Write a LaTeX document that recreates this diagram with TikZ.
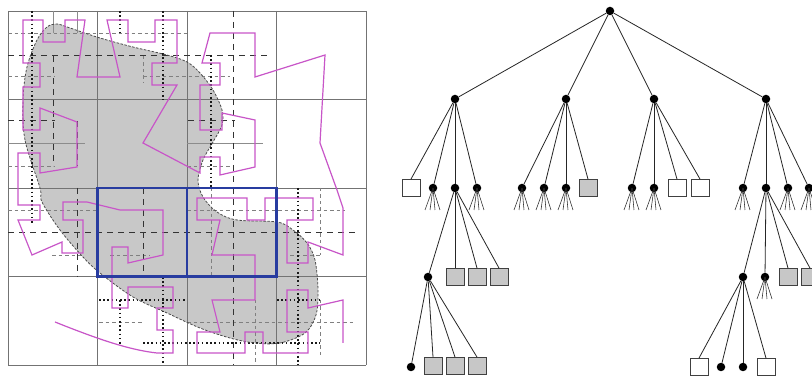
\documentclass[tikz,border=0pt]{standalone}
\usetikzlibrary{calc}
\definecolor{mag}{RGB}{200,85,200}
\definecolor{bluebox}{RGB}{40,60,160}
\definecolor{blobfill}{RGB}{200,200,200}
\begin{document}
\begin{tikzpicture}[x=1pt,y=-1pt,
  major/.style={draw=black!55,line width=0.9pt},
  thingrid/.style={draw=black!45,line width=0.6pt},
  ldash/.style={draw=black!80,line width=1.0pt,dash pattern=on 6pt off 5pt},
  gdash/.style={draw=black!50,line width=0.7pt,dash pattern=on 3.5pt off 3pt},
  ldot/.style={draw=black!90,line width=1.2pt,dash pattern=on 1.6pt off 2.6pt},
  blobline/.style={draw=black!70,line width=0.8pt,dash pattern=on 2.5pt off 1.5pt},
  hilb/.style={draw=mag,line width=1.2pt,line join=miter},
  cellbox/.style={draw=bluebox,line width=2.4pt},
  edge/.style={draw=black!85,line width=0.8pt},
  tass/.style={draw=black!85,line width=0.55pt},
  dotn/.style={circle,fill=black,inner sep=0pt,minimum size=8.5pt},
  sqw/.style={rectangle,draw=black!75,line width=0.8pt,fill=white,minimum width=18pt,minimum height=17pt,inner sep=0pt},
  sqg/.style={sqw,fill=black!22}]
\useasboundingbox (0,0) rectangle (812,379);
\fill[white] (0,0) rectangle (812,379);

% ---------------- blob
\def\blobpts{(40,188) (25,140) (23,100) (27,67) (37,40) (47,27) (57,24) (70,28) (100,38) (133,47) (167,55) (187,62) (200,73) (213,90) (222,110) (222,125) (213,142) (203,160) (198,180) (203,197) (217,212) (237,220) (277,222) (293,230) (307,243) (315,260) (318,290) (316,315) (305,333) (280,343) (255,343) (230,338) (200,328) (167,313) (133,297) (100,273) (83,257) (60,230) (42,202)}
\fill[blobfill] plot[smooth cycle,tension=0.55] coordinates {\blobpts};

% ---------------- grid
\foreach \v in {8,97.5,187,276.5,366} \draw[major] (\v,11) -- (\v,365);
\foreach \h in {11,99.5,188,276.5,365} \draw[major] (8,\h) -- (366,\h);
\foreach \y/\a/\b in {143/8/85,143/187/263} \draw[thingrid] (\a,\y) -- (\b,\y);
\foreach \x/\a/\b in {53/11/33,77/11/33} \draw[thingrid] (\x,\a) -- (\x,\b);

% grey dashed
\foreach \y/\a/\b in {33/8/187,76/8/55,76/143/230,166/8/55,166/187/230,210/8/97,210/187/345,255/52/83,255/110/150,255/290/320,322/99/143,322/187/355}
  \draw[gdash] (\a,\y) -- (\b,\y);
\foreach \x/\a/\b in {211/188/277,320/188/255,320/300/355,255/300/365,143/56/83}
  \draw[gdash] (\x,\a) -- (\x,\b);

% black dashed
\foreach \y/\a/\b in {56/8/267,121/8/55,121/188/235,233/8/355}
  \draw[ldash] (\a,\y) -- (\b,\y);
\foreach \x/\a/\b in {53/56/166,233/11/188,77/188/277,77/121/166,143/188/277,233/188/365}
  \draw[ldash] (\x,\a) -- (\x,\b);

% black dotted
\foreach \y/\a/\b in {300/99/187,300/277/320,343/143/320}
  \draw[ldot] (\a,\y) -- (\b,\y);
\foreach \x/\a/\b in {32/11/225,120/11/33,120/300/345,163/11/100,163/277/365,211/55/188,298/188/365}
  \draw[ldot] (\x,\a) -- (\x,\b);

% blob outline
\draw[blobline] plot[smooth cycle,tension=0.55] coordinates {\blobpts};

% ---------------- curve
\draw[hilb] (55,322) .. controls (100,340) and (130,350) .. (157,353) -- (173,353) -- (173,330) -- (157,330) -- (157,308) -- (173,308) -- (173,287) -- (128,287) -- (128,308) -- (112,308) -- (112,247) -- (128,247) -- (128,263) -- (163,255) -- (163,210) -- (120,210) -- (87,202) -- (63,202) -- (63,220) -- (83,220) -- (83,253) -- (62,253) -- (62,242) -- (32,255) -- (18,220) -- (40,220) -- (40,205) -- (18,205) -- (18,153) -- (40,153) -- (40,173) -- (77,167) -- (77,122) -- (40,108) -- (40,130) -- (23,130) -- (23,87) -- (40,87) -- (40,63) -- (23,63) -- (23,20) -- (43,20) -- (43,42) -- (65,42) -- (65,20) -- (85,20) -- (77,77) -- (120,77) -- (107,20) -- (128,20) -- (128,42) -- (155,42) -- (155,20) -- (177,20) -- (177,63) -- (152,63) -- (152,85) -- (177,85) -- (143,143) -- (200,173) -- (200,157) -- (220,157) -- (220,175) -- (255,167) -- (255,120) -- (222,113) -- (222,130) -- (200,130) -- (200,85) -- (220,85) -- (220,63) -- (202,63) -- (210,33) -- (255,33) -- (255,77) -- (325,55) -- (320,143) -- (337,190) -- (343,208) -- (343,255) -- (308,242) -- (308,263) -- (287,263) -- (287,220) -- (313,220) -- (313,198) -- (265,198) -- (265,220) -- (247,220) -- (247,198) -- (197,198) -- (197,220) -- (220,220) -- (212,255) -- (255,255) -- (255,300) -- (212,300) -- (220,332) -- (197,332) -- (197,353) -- (245,353) -- (245,332) -- (263,332) -- (263,353) -- (308,353) -- (308,332) -- (287,332) -- (287,290) -- (308,290) -- (308,308) -- (343,300) -- (343,343);

% blue cells
\draw[cellbox] (97.5,188) rectangle (187,276.5);
\draw[cellbox] (187,188) rectangle (276.5,276.5);

% ---------------- tree
\node[dotn] (r) at (610,11) {};
\node[dotn] (a) at (455,99) {};
\node[dotn] (b) at (566,99) {};
\node[dotn] (c) at (654,99) {};
\node[dotn] (d) at (766,99) {};

\node[sqw]  (a1) at (411,188) {};
\node[dotn] (a2) at (433,188) {};
\node[dotn] (a3) at (455,188) {};
\node[dotn] (a4) at (477,188) {};
\node[dotn] (b1) at (522,188) {};
\node[dotn] (b2) at (544,188) {};
\node[dotn] (b3) at (566,188) {};
\node[sqg]  (b4) at (588,188) {};
\node[dotn] (c1) at (632,188) {};
\node[dotn] (c2) at (654,188) {};
\node[sqw]  (c3) at (677,188) {};
\node[sqw]  (c4) at (700,188) {};
\node[dotn] (d1) at (743,188) {};
\node[dotn] (d2) at (766,188) {};
\node[dotn] (d3) at (788,188) {};
\node[dotn] (d4) at (809,188) {};

\node[dotn] (e1) at (428,277) {};
\node[sqg]  (e2) at (455,277) {};
\node[sqg]  (e3) at (477,277) {};
\node[sqg]  (e4) at (499,277) {};
\node[dotn] (f1) at (743,277) {};
\node[dotn] (f2) at (765,277) {};
\node[sqg]  (f3) at (788,277) {};
\node[sqg]  (f4) at (810,277) {};

\node[dotn] (g1) at (411,367) {};
\node[sqg]  (g2) at (433,366) {};
\node[sqg]  (g3) at (455,366) {};
\node[sqg]  (g4) at (477,366) {};
\node[sqw]  (h1) at (699,367) {};
\node[dotn] (h2) at (721,367) {};
\node[dotn] (h3) at (743,367) {};
\node[sqw]  (h4) at (766,367) {};

\foreach \p/\q in {r/a,r/b,r/c,r/d,a/a2,a/a3,a/a4,b/b1,b/b2,b/b3,c/c1,c/c2,d/d1,d/d2,d/d3,d/d4,a3/e1,d2/f1,d2/f2,e1/g1,f1/h2,f1/h3}
  \draw[edge] (\p) -- (\q);
\foreach \p/\q in {a/a1,b/b4,c/c3,c/c4,a3/e2,a3/e3,a3/e4,d2/f3,d2/f4,e1/g2,e1/g3,e1/g4,f1/h1,f1/h4}
  \draw[edge] (\p) -- (\q.north);

\foreach \n in {a2,a4,b1,b2,b3,c1,c2,d1,d3,d4,f2}
  \foreach \dx in {-8,-3,2,7}
    \draw[tass] (\n.center) -- ++(\dx,22);
\end{tikzpicture}
\end{document}
